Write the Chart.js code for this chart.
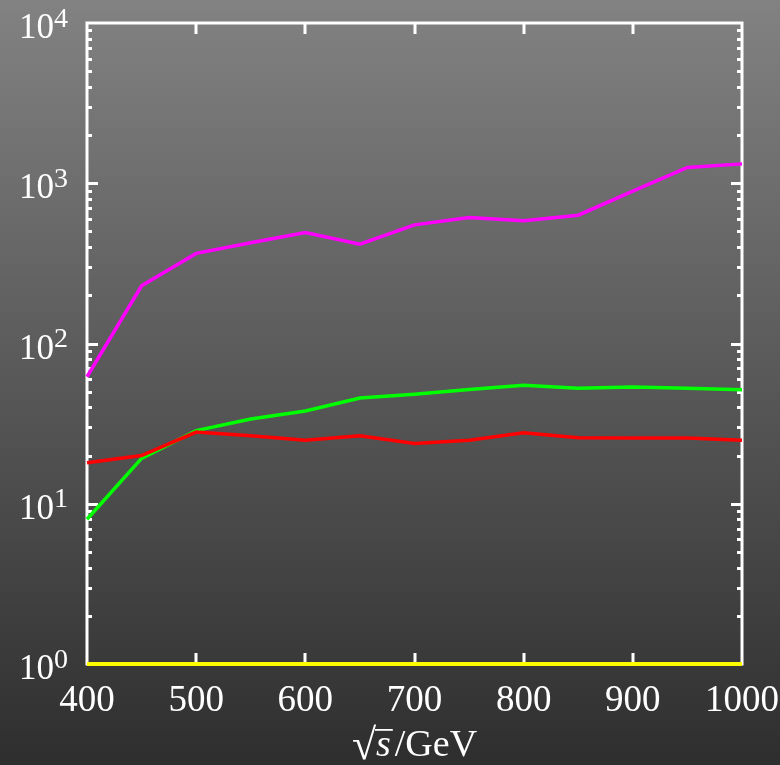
<!DOCTYPE html>
<html><head><meta charset="utf-8">
<script src="https://cdn.jsdelivr.net/npm/chart.js@4/dist/chart.umd.min.js"></script>
<style>html,body{margin:0;padding:0;background:#333;}#wrap{width:780px;height:765px;}</style>
</head><body><div id="wrap"><canvas id="c" width="780" height="765"></canvas></div>
<script>
const energies = [400,450,500,550,600,650,700,750,800,850,900,950,1000];
const magentaSeries = [62,229,365,425,493,417,550,612,583,632,893,1255,1321];
const greenSeries = [8.0,19.2,28.6,33.8,37.9,45.7,48.2,51.7,54.8,52.5,53.5,52.5,51.4];
const redSeries = [18,20,28,26.6,24.9,26.6,23.8,24.9,27.7,25.8,25.7,25.7,24.9];
const yellowSeries = [1,1,1,1,1,1,1,1,1,1,1,1,1];
const xTickValues = [400,500,600,700,800,900,1000];
const xTickLabels = ['400','500','600','700','800','900','1000'];
const yTickValues = [1,10,100,1000,10000];
const yTickExponents = ['0','1','2','3','4'];
const xTitleParts = ['\u221A','s','/GeV'];

const FONT = '"Liberation Serif", "DejaVu Serif", serif';
const pts = arr => energies.map((e,i)=>({x:e,y:arr[i]}));

const decor = {
  id:'decor',
  beforeDraw(chart){
    const ctx = chart.ctx;
    const g = ctx.createLinearGradient(0,0,0,chart.height);
    g.addColorStop(0,'#828282');
    g.addColorStop(1,'#2e2e2e');
    ctx.save(); ctx.fillStyle = g; ctx.fillRect(0,0,chart.width,chart.height); ctx.restore();
  },
  beforeDatasetsDraw(chart){
    const ctx = chart.ctx, a = chart.chartArea, xs = chart.scales.x, ys = chart.scales.y;
    ctx.save();
    ctx.strokeStyle = '#ffffff';
    ctx.lineWidth = 3;
    ctx.strokeRect(a.left, a.top, a.right-a.left, a.bottom-a.top);
    ctx.lineWidth = 3;
    ctx.beginPath();
    for (let d=1; d<=1000; d*=10){
      for (let m=1; m<=9; m++){
        const v = m*d;
        if (m===1 && d===1) continue;
        const py = Math.round(ys.getPixelForValue(v))+0.5;
        const len = (m===1)?11:5;
        ctx.moveTo(a.left, py); ctx.lineTo(a.left+len, py);
        ctx.moveTo(a.right, py); ctx.lineTo(a.right-len, py);
      }
    }
    xTickValues.forEach(v=>{
      if (v===400||v===1000) return;
      const px = Math.round(xs.getPixelForValue(v));
      ctx.moveTo(px, a.top); ctx.lineTo(px, a.top+11);
      ctx.moveTo(px, a.bottom); ctx.lineTo(px, a.bottom-11);
    });
    ctx.stroke();
    ctx.restore();
  },
  afterDraw(chart){
    const ctx = chart.ctx, a = chart.chartArea, xs = chart.scales.x, ys = chart.scales.y;
    ctx.save();
    ctx.fillStyle = '#ffffff';
    ctx.font = '37px ' + FONT;
    ctx.textAlign = 'center';
    ctx.textBaseline = 'alphabetic';
    xTickValues.forEach((v,i)=>{
      ctx.fillText(xTickLabels[i], xs.getPixelForValue(v), a.bottom+47);
    });
    const rightEdge = 68;
    yTickValues.forEach((v,i)=>{
      const py = ys.getPixelForValue(v);
      ctx.font = '28px ' + FONT;
      ctx.textAlign = 'right';
      const ew = ctx.measureText(yTickExponents[i]).width;
      ctx.fillText(yTickExponents[i], rightEdge, py+3.5);
      ctx.font = '35px ' + FONT;
      ctx.fillText('10', rightEdge-ew, py+15);
    });
    ctx.textAlign = 'left';
    const base = 756;
    ctx.font = '44px ' + FONT;
    const w0 = ctx.measureText(xTitleParts[0]).width;
    ctx.font = 'italic 38px ' + FONT;
    const w1 = ctx.measureText(xTitleParts[1]).width;
    ctx.font = '38px ' + FONT;
    const w2 = ctx.measureText(xTitleParts[2]).width;
    const total = w0+w1+w2+4;
    let x0 = (a.left+a.right)/2 - total/2;
    ctx.font = '44px ' + FONT;
    ctx.fillText(xTitleParts[0], x0, base+3);
    ctx.font = 'italic 38px ' + FONT;
    ctx.fillText(xTitleParts[1], x0+w0, base);
    ctx.fillRect(x0+w0-1, base-27, w1+3, 1.8);
    ctx.font = '38px ' + FONT;
    ctx.fillText(xTitleParts[2], x0+w0+w1+4, base);
    ctx.restore();
  }
};

const common = {fill:false, pointRadius:0, borderWidth:3.5, tension:0, clip:false};
new Chart(document.getElementById('c'), {
  type:'line',
  data:{
    datasets:[
      Object.assign({label:'yellow', data:pts(yellowSeries), borderColor:'#ffff00', order:0}, common, {borderWidth:4}),
      Object.assign({label:'red', data:pts(redSeries), borderColor:'#ff0000', order:1}, common),
      Object.assign({label:'green', data:pts(greenSeries), borderColor:'#00ff00', order:2}, common),
      Object.assign({label:'magenta', data:pts(magentaSeries), borderColor:'#ff00ff', order:3}, common)
    ]
  },
  options:{
    responsive:false,
    devicePixelRatio:1,
    animation:false,
    layout:{padding:{left:87, right:38, top:23, bottom:101}},
    plugins:{legend:{display:false}, tooltip:{enabled:false}},
    scales:{
      x:{type:'linear', min:400, max:1000, display:false},
      y:{type:'logarithmic', min:1, max:10000, display:false}
    }
  },
  plugins:[decor]
});
</script>
</body></html>
